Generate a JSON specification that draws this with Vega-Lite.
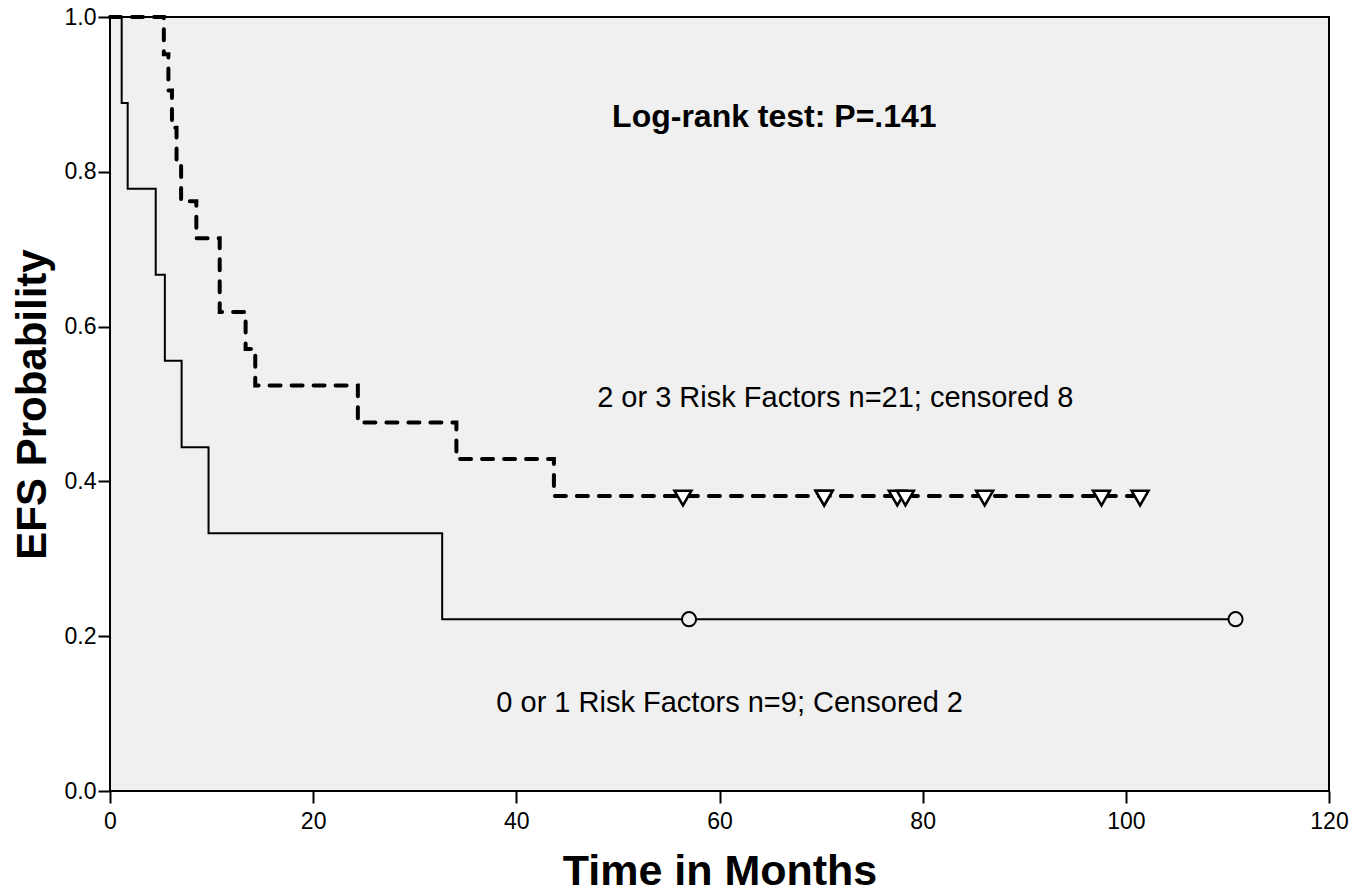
{
  "$schema": "https://vega.github.io/schema/vega-lite/v6.json",
  "width": 1219,
  "height": 774,
  "autosize": {"type": "none"},
  "padding": {"left": 110, "top": 17, "right": 39, "bottom": 105},
  "background": "white",
  "config": {
    "font": "Liberation Sans",
    "view": {"fill": "#f0f0f0", "stroke": "black", "strokeWidth": 2},
    "axis": {"domain": false, "grid": false, "tickColor": "black", "tickWidth": 2, "labelColor": "black", "titleColor": "black", "labelFont": "Liberation Sans", "titleFont": "Liberation Sans"}
  },
  "datasets": {
    "curves": [
      {"group": "low", "t": 0, "s": 1.0},
      {"group": "low", "t": 1.15, "s": 0.889},
      {"group": "low", "t": 1.74, "s": 0.778},
      {"group": "low", "t": 4.5, "s": 0.667},
      {"group": "low", "t": 5.4, "s": 0.556},
      {"group": "low", "t": 7.05, "s": 0.444},
      {"group": "low", "t": 9.7, "s": 0.333},
      {"group": "low", "t": 32.7, "s": 0.222},
      {"group": "low", "t": 110.8, "s": 0.222},
      {"group": "high", "t": 0, "s": 1.0},
      {"group": "high", "t": 5.3, "s": 0.952},
      {"group": "high", "t": 5.75, "s": 0.905},
      {"group": "high", "t": 6.1, "s": 0.857},
      {"group": "high", "t": 6.55, "s": 0.81},
      {"group": "high", "t": 7.0, "s": 0.762},
      {"group": "high", "t": 8.5, "s": 0.714},
      {"group": "high", "t": 10.8, "s": 0.619},
      {"group": "high", "t": 13.35, "s": 0.571},
      {"group": "high", "t": 14.3, "s": 0.524},
      {"group": "high", "t": 24.4, "s": 0.476},
      {"group": "high", "t": 34.1, "s": 0.429},
      {"group": "high", "t": 43.7, "s": 0.381},
      {"group": "high", "t": 101.4, "s": 0.381}
    ],
    "censored": [
      {"group": "low", "t": 57.0, "s": 0.222},
      {"group": "low", "t": 110.8, "s": 0.222},
      {"group": "high", "t": 56.4, "s": 0.381},
      {"group": "high", "t": 70.3, "s": 0.381},
      {"group": "high", "t": 70.3, "s": 0.381},
      {"group": "high", "t": 77.5, "s": 0.381},
      {"group": "high", "t": 78.3, "s": 0.381},
      {"group": "high", "t": 86.1, "s": 0.381},
      {"group": "high", "t": 97.6, "s": 0.381},
      {"group": "high", "t": 101.4, "s": 0.381}
    ],
    "notes": [
      {"kind": "test", "label": "Log-rank test: P=.141", "t": 65.4, "s": 0.858},
      {"kind": "group", "label": "2 or 3 Risk Factors n=21; censored 8", "t": 71.4, "s": 0.496},
      {"kind": "group", "label": "0 or 1 Risk Factors n=9; Censored 2", "t": 61.0, "s": 0.102}
    ]
  },
  "encoding": {
    "x": {
      "field": "t", "type": "quantitative",
      "scale": {"domain": [0, 120], "nice": false, "zero": false},
      "axis": {"values": [0, 20, 40, 60, 80, 100, 120], "title": "Time in Months", "titleFontSize": 43, "titleFontWeight": "bold", "labelFontSize": 23, "tickSize": 12, "labelPadding": 7, "titlePadding": 17, "labelFlush": false}
    },
    "y": {
      "field": "s", "type": "quantitative",
      "scale": {"domain": [0, 1], "nice": false},
      "axis": {"values": [0, 0.2, 0.4, 0.6, 0.8, 1.0], "format": ".1f", "title": "EFS Probability", "titleFontSize": 42, "titleFontWeight": "bold", "labelFontSize": 23, "tickSize": 12, "labelPadding": 2, "titlePadding": 10, "labelFlush": false}
    }
  },
  "layer": [
    {
      "data": {"name": "curves"},
      "transform": [{"filter": "datum.group === 'low'"}],
      "mark": {"type": "line", "interpolate": "step-after", "color": "black", "strokeWidth": 2}
    },
    {
      "data": {"name": "curves"},
      "transform": [{"filter": "datum.group === 'high'"}],
      "mark": {"type": "line", "interpolate": "step-after", "color": "black", "strokeWidth": 4, "strokeDash": [11, 11], "strokeCap": "round"}
    },
    {
      "data": {"name": "censored"},
      "transform": [{"filter": "datum.group === 'low'"}],
      "mark": {"type": "point", "shape": "circle", "size": 200, "filled": false, "fill": "#f0f0f0", "fillOpacity": 1, "stroke": "black", "strokeWidth": 2, "opacity": 1}
    },
    {
      "data": {"name": "censored"},
      "transform": [{"filter": "datum.group === 'high'"}],
      "mark": {"type": "point", "shape": "triangle-down", "size": 290, "filled": false, "fill": "white", "fillOpacity": 1, "stroke": "black", "strokeWidth": 2.5, "opacity": 1, "yOffset": 2}
    },
    {
      "data": {"name": "notes"},
      "transform": [{"filter": "datum.kind === 'test'"}],
      "mark": {"type": "text", "font": "Liberation Sans", "fontSize": 32, "fontWeight": "bold", "color": "black", "align": "center", "baseline": "alphabetic"},
      "encoding": {"text": {"field": "label"}}
    },
    {
      "data": {"name": "notes"},
      "transform": [{"filter": "datum.kind === 'group'"}],
      "mark": {"type": "text", "font": "Liberation Sans", "fontSize": 29, "color": "black", "align": "center", "baseline": "alphabetic"},
      "encoding": {"text": {"field": "label"}}
    }
  ]
}
